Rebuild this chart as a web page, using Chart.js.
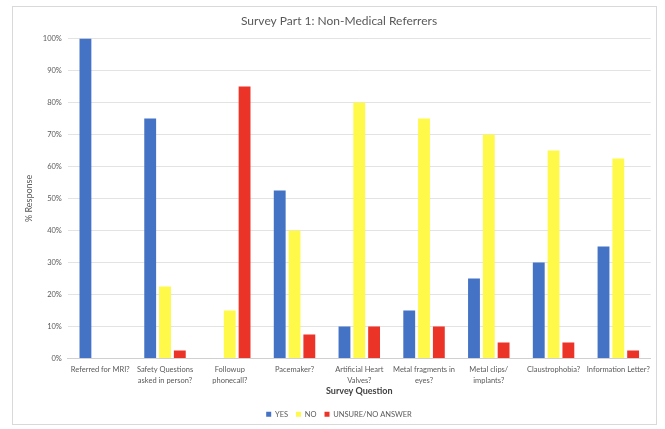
<!DOCTYPE html>
<html>
<head>
<meta charset="utf-8">
<script src="https://cdn.jsdelivr.net/npm/chart.js@4/dist/chart.umd.min.js"></script>
<style>
  html, body { margin: 0; padding: 0; background: #fff; }
  #frame {
    position: absolute; left: 12px; top: 6px;
    width: 645px; height: 419px;
    border: 1px solid #d9d9d9; box-sizing: border-box;
  }
  #chartSurvey { display: block; }
</style>
</head>
<body>
<div id="frame"><canvas id="chartSurvey" width="643" height="417"></canvas></div>
<script>
"use strict";

// Preguntas de la encuesta (eje X)
var questions = [
  'Referred for MRI?',
  ['Safety Questions', 'asked in person?'],
  ['Followup', 'phonecall?'],
  'Pacemaker?',
  ['Artificial Heart', 'Valves?'],
  ['Metal fragments in', 'eyes?'],
  ['Metal clips/', 'implants?'],
  'Claustrophobia?',
  'Information Letter?'
];

// % de respuestas por serie
var yesValues    = [100, 75,   0, 52.5, 10, 15, 25, 30, 35];
var noValues     = [  0, 22.5, 15, 40,  80, 75, 70, 65, 62.5];
var unsureValues = [  0, 2.5, 85,  7.5, 10, 10,  5,  5, 2.5];

var TEXT_GRAY = '#595959';
var FONT = "Lato, 'Open Sans', sans-serif";

Chart.defaults.font.family = FONT;
Chart.defaults.color = TEXT_GRAY;

new Chart(document.getElementById('chartSurvey'), {
  type: 'bar',
  data: {
    labels: questions,
    datasets: [
      { label: 'YES', data: yesValues, backgroundColor: '#4472C4' },
      { label: 'NO', data: noValues, backgroundColor: '#FFF94A' },
      { label: 'UNSURE/NO ANSWER', data: unsureValues, backgroundColor: '#EC3327' }
    ]
  },
  options: {
    responsive: false,
    animation: false,
    categoryPercentage: 0.686,
    barPercentage: 0.8,
    layout: { padding: { top: 5, right: 2, left: 11, bottom: -4 } },
    plugins: {
      title: {
        display: true,
        text: 'Survey Part 1: Non-Medical Referrers',
        color: TEXT_GRAY,
        font: { size: 12, weight: 'normal' },
        padding: { top: 2, bottom: 10 }
      },
      legend: {
        position: 'bottom',
        labels: {
          boxWidth: 5, boxHeight: 5,
          padding: 8,
          color: TEXT_GRAY,
          font: { size: 7.5 }
        }
      },
      tooltip: { enabled: false }
    },
    scales: {
      x: {
        grid: { display: false, drawTicks: false },
        border: { color: '#d0d0d0' },
        ticks: {
          color: TEXT_GRAY, font: { size: 7.5, lineHeight: 1.4 },
          padding: 6, maxRotation: 0, autoSkip: false
        },
        title: {
          display: true, text: 'Survey Question',
          color: '#404040', font: { size: 9, weight: 'bold' },
          padding: { top: 0, bottom: 6 }
        },
        // altura fija del eje: etiquetas de dos líneas + título
        afterFit: function (scale) { scale.height = 44; }
      },
      y: {
        min: 0, max: 100,
        grid: { color: '#e3e3e3', drawTicks: false },
        border: { display: false },
        ticks: {
          stepSize: 10, padding: 6,
          color: TEXT_GRAY, font: { size: 7.5 },
          callback: function (v) { return v + '%'; }
        },
        title: {
          display: true, text: '% Response',
          color: TEXT_GRAY, font: { size: 9 },
          padding: { top: 0, bottom: 2 }
        }
      }
    }
  }
});
</script>
</body>
</html>
